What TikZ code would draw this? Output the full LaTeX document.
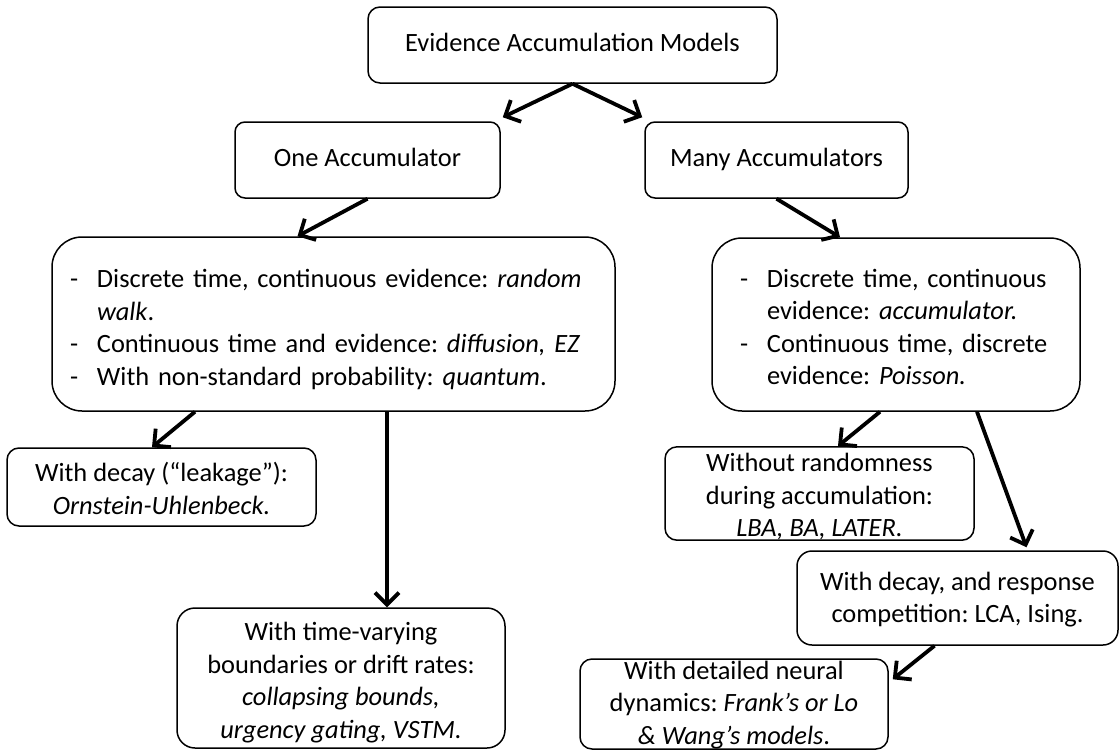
\documentclass[tikz,border=0pt]{standalone}
\usepackage{fontspec}
\setmainfont{Carlito}
\usetikzlibrary{arrows.meta,calc}
\begin{document}
\frenchspacing
\begin{tikzpicture}[x=1pt,y=-1pt,
  box/.style={draw, line width=1.5pt, rounded corners=#1, inner sep=0pt, align=center,
    font=\fontsize{26.4}{32.5}\selectfont\frenchspacing},
  box/.default=12pt,
  oneline/.style={text height=18pt, text depth=6pt},
  arr/.style={line width=3.8pt, -{Straight Barb[length=12pt,width=24pt]}},
]
\useasboundingbox[fill=white] (0,0) rectangle (1120,750);

\node[box, oneline, minimum width=409pt, minimum height=76pt] (ev) at (572.5,45) {Evidence Accumulation Models};
\node[box=10pt, oneline, minimum width=265pt, minimum height=76pt] (one) at (367.5,160) {One Accumulator};
\node[box=10pt, oneline, minimum width=263pt, minimum height=76pt] (many) at (776.5,160) {Many Accumulators};

\node[box=30pt, minimum width=563pt, minimum height=174pt, inner xsep=18pt, text width=527pt, align=left] (L) at (333.5,324) {%
\raisebox{0pt}[\height][\dimexpr\depth-12pt\relax]{\begin{tabular}{@{}p{27pt}@{}l@{}}
-&Discrete time, continuous evidence: \textit{random}\\
&\textit{walk}.\\
-&Continuous time and evidence: \textit{diffusion, EZ}\\
-&With non-standard probability: \textit{quantum}.
\end{tabular}}};

\node[box=30pt, minimum width=368pt, minimum height=173pt, inner xsep=28pt, text width=312pt, align=left] (R) at (896,324.5) {%
\raisebox{0pt}[\height][\dimexpr\depth-10pt\relax]{\begin{tabular}{@{}p{27pt}@{}l@{}}
-&Discrete time, continuous\\
&evidence: \textit{accumulator.}\\
-&Continuous time, discrete\\
&evidence: \textit{Poisson.}
\end{tabular}}};

\node[box, minimum width=309pt, minimum height=78pt] (dec) at (161.5,487) {\rule{0pt}{22pt}With decay (“leakage”):\\\textit{Ornstein-Uhlenbeck.}};
\node[box=18pt, minimum width=328pt, minimum height=140pt] (tv) at (341,678) {\rule{0pt}{28pt}With time-varying\\boundaries or drift rates:\\\textit{collapsing bounds,}\\\textit{urgency gating, VSTM.}};
\node[box, minimum width=309pt, minimum height=91pt] (wr) at (819.5,493.5) {\rule{0pt}{25pt}Without randomness\\during accumulation:\\\textit{LBA, BA, LATER.}};
\node[box=15pt, minimum width=321pt, minimum height=94pt] (dr) at (957.5,598) {\rule{0pt}{22pt}With decay, and response\\competition: LCA, Ising.};
\node[box, minimum width=308pt, minimum height=90pt] (nd) at (734,704) {\rule{0pt}{20pt}With detailed neural\\dynamics: \textit{Frank’s or Lo}\\\textit{\& Wang’s models}.};

\draw[arr] (ev.south) -- ([xshift=2pt,yshift=4pt]one.north east);
\draw[arr] (ev.south) -- ([xshift=-2pt,yshift=4pt]many.north west);
\draw[arr] (one.south) -- ([xshift=-36pt]L.north);
\draw[arr] (many.south) -- ([xshift=-56pt]R.north);
\draw[arr] ([xshift=-138.5pt]L.south) -- ([xshift=-9.5pt]dec.north);
\coordinate (lv) at ([xshift=53.5pt]L.south);
\draw[arr] (lv) -- (lv |- tv.north);
\draw[arr] ([xshift=-16pt]R.south) -- ([xshift=18.5pt]wr.north);
\draw[arr] ([xshift=81pt]R.south) -- ([xshift=69pt,yshift=3pt]dr.north);
\draw[arr] ([xshift=-23pt]dr.south) -- ([xshift=4pt,yshift=-21pt]nd.north east);
\end{tikzpicture}
\end{document}
